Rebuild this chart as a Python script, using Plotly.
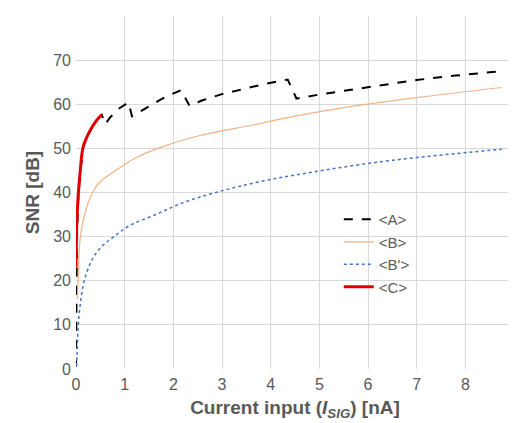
import plotly.graph_objects as go

# <A> black dashed (sawtooth)
a_x = [0, 0.003, 0.005, 0.008, 0.01, 0.02, 0.05, 0.08, 0.14, 0.2, 0.34, 0.45, 0.53,
       0.6, 0.7, 0.85, 1.08, 1.15, 1.3, 1.5, 1.7, 1.9, 2.16, 2.33, 2.6, 3.0, 3.4, 3.8, 4.35,
       4.53, 5.0, 5.5, 6.2, 7.0, 7.8, 8.75]
a_y = [0.5, 10, 16, 21, 23, 30, 40, 44, 50, 52, 55, 56.7, 57.6,
       55.5, 57.0, 58.8, 60.4, 57.3, 58.3, 59.5, 60.8, 62, 63.2, 59.7, 60.9, 62.3, 63.4, 64.4, 65.6,
       61.3, 62.2, 63.0, 64.2, 65.5, 66.5, 67.5]
# <B> orange solid
b_x = [0.03, 0.05, 0.09, 0.2, 0.34, 0.5, 0.82, 1.2, 1.68, 2.5, 3.63, 4.5, 5.54, 7.0, 8.75]
b_y = [15.8, 22, 30, 36, 40, 42.5, 45, 47.7, 50, 52.8, 55.3, 57.3, 59.3, 61.5, 63.8]
# <B'> blue dotted
bp_x = [0.01, 0.02, 0.04, 0.08, 0.17, 0.34, 0.55, 0.78, 1.1, 1.64, 2.2, 2.87, 3.8, 5.06, 6.5, 8.75]
bp_y = [0.5, 3, 8.5, 14, 20, 25, 28, 30, 32.5, 35, 37.7, 40, 42.5, 45, 47.3, 49.8]
# <C> red solid
c_x = [0.0, 0.01, 0.02, 0.05, 0.08, 0.14, 0.2, 0.34, 0.45, 0.53]
c_y = [23, 30, 34, 40, 44, 50, 52, 55, 56.7, 57.6]

fig = go.Figure()
fig.add_trace(go.Scatter(x=a_x, y=a_y, mode='lines', name='&lt;A&gt;',
                         line=dict(color='black', width=2, dash='dash')))
fig.add_trace(go.Scatter(x=b_x, y=b_y, mode='lines', name='&lt;B&gt;', line_shape='spline',
                         line=dict(color='#f4b183', width=1.2)))
fig.add_trace(go.Scatter(x=bp_x, y=bp_y, mode='lines', name="&lt;B'&gt;", line_shape='spline',
                         line=dict(color='#4472c4', width=1.5, dash='dot')))
fig.add_trace(go.Scatter(x=c_x, y=c_y, mode='lines', name='&lt;C&gt;', line_shape='spline',
                         line=dict(color='#e00000', width=3)))

fig.update_layout(
    width=516, height=423,
    margin=dict(l=68, r=10, t=8, b=62),
    plot_bgcolor='white', paper_bgcolor='white',
    font=dict(family='Liberation Sans, Arial', size=16, color='#595959'),
    legend=dict(x=0.6, y=0.47, xanchor='left', yanchor='top',
                bgcolor='rgba(255,255,255,0)', font=dict(size=15, color='#595959')),
)
fig.update_xaxes(range=[0, 9], dtick=1, showgrid=True, gridcolor='#d9d9d9', zeroline=False,
                 automargin=False, ticks='', ticklabelstandoff=4,
                 title=dict(text='<b>Current input (<i>I</i><sub><i>SIG</i></sub>) [nA]</b>', standoff=8))
fig.update_yaxes(range=[0, 80], dtick=10, showgrid=True, gridcolor='#d9d9d9', zeroline=False,
                 automargin=False, ticks='', ticklabelstandoff=4,
                 title=dict(text='<b>SNR [dB]</b>', standoff=8))

fig.write_html("out.html")
